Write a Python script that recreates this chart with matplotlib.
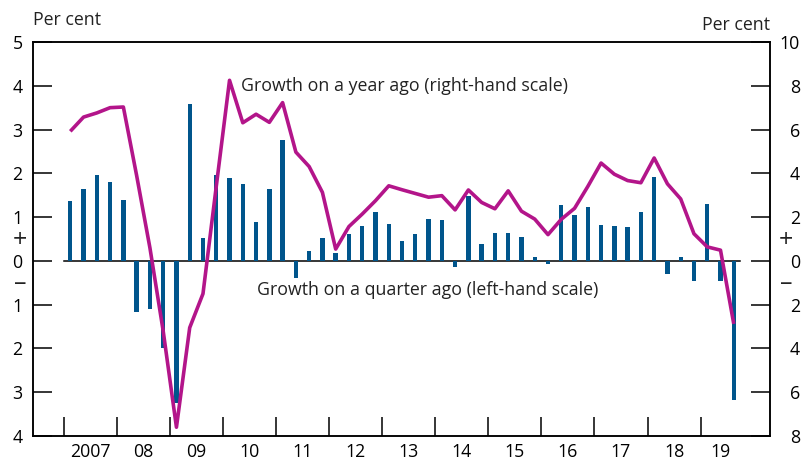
import matplotlib
matplotlib.use("Agg")
import matplotlib.pyplot as plt
import numpy as np

# ---------------------------------------------------------------------------
# Data (quarterly, 2007 Q1 - 2019 Q3)
# ---------------------------------------------------------------------------

years = ["2007", "08", "09", "10", "11", "12", "13", "14", "15", "16", "17", "18", "19"]

# growth on a quarter ago, per cent (left-hand scale)
quarter_growth = [
    1.37, 1.65, 1.96, 1.81, 1.39, -1.16, -1.11, -1.99, -3.25, 3.59,
    0.53, 1.97, 1.90, 1.75, 0.88, 1.64, 2.77, -0.38, 0.22, 0.53,
    0.18, 0.62, 0.79, 1.11, 0.85, 0.46, 0.61, 0.95, 0.93, -0.14,
    1.48, 0.38, 0.64, 0.64, 0.55, 0.09, -0.08, 1.27, 1.05, 1.22,
    0.83, 0.79, 0.77, 1.11, 1.92, -0.30, 0.10, -0.46, 1.31, -0.47,
    -3.18,
]

# growth on a year ago, per cent (right-hand scale)
annual_growth = [
    5.92, 6.57, 6.76, 7.00, 7.03, 3.90, 0.60, -3.20, -7.60, -3.05,
    -1.50, 3.40, 8.25, 6.31, 6.70, 6.33, 7.23, 4.97, 4.31, 3.13,
    0.54, 1.57, 2.14, 2.75, 3.43, 3.25, 3.08, 2.91, 2.98, 2.33,
    3.24, 2.67, 2.38, 3.20, 2.27, 1.91, 1.20, 1.90, 2.40, 3.40,
    4.47, 3.96, 3.67, 3.57, 4.70, 3.52, 2.83, 1.24, 0.64, 0.49,
    -2.88,
]

left_ticks = list(range(-4, 6))
right_ticks = list(range(-8, 11, 2))

C_BAR = "#00558C"   # blue
C_LINE = "#B3158A"  # magenta

plt.rcParams["font.family"] = ["Open Sans", "DejaVu Sans"]
plt.rcParams["font.size"] = 12.8
plt.rcParams["text.color"] = "#222222"

W, H = 803, 463
fig = plt.figure(figsize=(W / 100, H / 100), dpi=100)
ax = fig.add_axes([33 / W, 27 / H, 737 / W, 394 / H])
ax2 = ax.twinx()

x = np.arange(len(quarter_growth))

ax.bar(x, quarter_growth, width=0.33, color=C_BAR, zorder=3)
ax.plot([-0.5, len(x) - 0.5], [0, 0], color="black", lw=1.1, zorder=2)
ax2.plot(x, annual_growth, color=C_LINE, lw=2.6,
         solid_joinstyle="round", solid_capstyle="butt")

ax.set_xlim(-2.81, 52.73)
ax.set_ylim(-4, 5)
ax2.set_ylim(-8, 10)

# year separators and labels
bounds = [4 * k - 0.5 for k in range(len(years))]
mids = [x[4 * k:4 * k + 4].mean() for k in range(len(years))]
ax.set_xticks(bounds)
ax.set_xticklabels([])
ax.set_xticks(mids, minor=True)
ax.set_xticklabels(years, minor=True)
ax.tick_params(axis="x", which="major", direction="in", length=13.7, width=1.1)
ax.tick_params(axis="x", which="minor", length=0, pad=5, labelsize=12.8)

# y axes show magnitudes only; the sign is given by +/- marks
ax.set_yticks(left_ticks, labels=[f"{abs(v)}" for v in left_ticks])
ax.tick_params(axis="y", direction="in", length=13.7, width=1.1, pad=7.5,
               labelsize=12.8)
ax2.set_yticks(right_ticks, labels=[f"{abs(v)}" for v in right_ticks])
ax2.tick_params(axis="y", direction="in", length=13.7, width=1.1, pad=21.6,
                labelsize=12.8)
plt.setp(ax2.get_yticklabels(), ha="right")

for a in (ax, ax2):
    for s in a.spines.values():
        s.set_linewidth(1.1)
        s.set_color("black")

sign_kw = dict(xycoords=("axes fraction", "data"), textcoords="offset points",
               ha="center", va="center", fontsize=18)
ax.annotate("+", xy=(0, 0), xytext=(-9.4, 14.4), **sign_kw)
ax.annotate("–", xy=(0, 0), xytext=(-9.4, -16.5), **sign_kw)
ax.annotate("+", xy=(1, 0), xytext=(11.5, 14.4), **sign_kw)
ax.annotate("–", xy=(1, 0), xytext=(11.5, -16.5), **sign_kw)

fig.text(33 / W, 1 - 20 / H, "Per cent", ha="left", va="center")
fig.text(770 / W, 1 - 25 / H, "Per cent", ha="right", va="center")

ax.text(12.86, 4.0, "Growth on a year ago (right-hand scale)", va="center")
ax.text(14.07, -0.66, "Growth on a quarter ago (left-hand scale)", va="center")

fig.savefig("out.png", dpi=100)
